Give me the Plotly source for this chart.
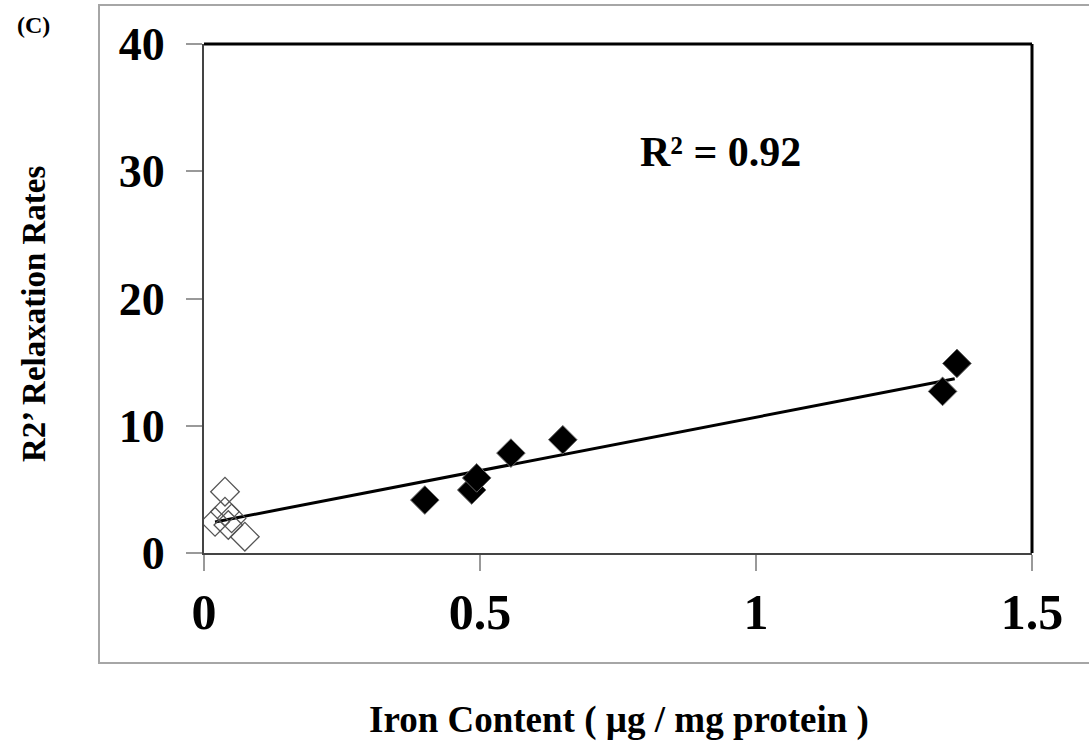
import plotly.graph_objects as go
import numpy as np

# Data
open_x = [0.020, 0.038, 0.038, 0.050, 0.044, 0.074]
open_y = [2.45, 4.82, 3.25, 2.72, 2.2, 1.28]

filled_x = [0.400, 0.485, 0.494, 0.556, 0.650, 1.338, 1.364]
filled_y = [4.16, 4.95, 5.9, 7.85, 8.9, 12.7, 14.9]

fit_slope = 8.40
fit_intercept = 2.27
fit_x_range = [0.020, 1.360]
r2_text = "R² = 0.92"

x_ticks = [0, 0.5, 1, 1.5]
x_ticklabels = ["0", "0.5", "1", "1.5"]
y_ticks = [0, 10, 20, 30, 40]

FONT = "Liberation Serif"

fig = go.Figure()

fit_x = np.array(fit_x_range)
fit_y = fit_slope * fit_x + fit_intercept
fig.add_trace(go.Scatter(x=fit_x, y=fit_y, mode="lines",
                         line=dict(color="black", width=3), showlegend=False))

fig.add_trace(go.Scatter(x=open_x, y=open_y, mode="markers", showlegend=False,
                         marker=dict(symbol="diamond-open", size=22, color="#555555",
                                     line=dict(color="#555555", width=1.3))))
fig.add_trace(go.Scatter(x=filled_x, y=filled_y, mode="markers", showlegend=False,
                         marker=dict(symbol="diamond", size=22, color="black",
                                     line=dict(color="#666666", width=1))))

L, R, T, B = 204, 57, 44, 189
W, H = 1089, 742
pw, ph = W - L - R, H - T - B

def px(x):
    return (x - L) / pw

def py(y):
    return (H - B - y) / ph

fig.update_layout(
    width=W, height=H,
    margin=dict(l=L, r=R, t=T, b=B),
    paper_bgcolor="white", plot_bgcolor="white",
    xaxis=dict(range=[0, 1.5], tickvals=x_ticks, ticktext=x_ticklabels,
               showgrid=False, zeroline=False, showline=True,
               linecolor="#444444", linewidth=2,
               ticks="outside", ticklen=16, tickcolor="#999999", tickwidth=1.5,
               tickfont=dict(family=FONT, size=50, color="black", weight="bold"),
               ticklabelstandoff=-2),
    yaxis=dict(range=[0, 40], tickvals=y_ticks,
               showgrid=False, zeroline=False, showline=True,
               linecolor="#444444", linewidth=2,
               ticks="outside", ticklen=16, tickcolor="#999999", tickwidth=1.5,
               tickfont=dict(family=FONT, size=46, color="black", weight="bold"),
               ticklabelstandoff=12),
    shapes=[
        # top and right frame of plot area
        dict(type="line", xref="paper", yref="paper", x0=0, x1=1, y0=1, y1=1,
             line=dict(color="black", width=3)),
        dict(type="line", xref="paper", yref="paper", x0=1, x1=1, y0=0, y1=1,
             line=dict(color="black", width=3)),
        # outer chart frame
        dict(type="rect", xref="paper", yref="paper",
             x0=px(99), x1=px(1095), y0=py(663), y1=py(5),
             line=dict(color="#a6a6a6", width=2), layer="below"),
    ],
    annotations=[
        dict(text=r2_text, xref="paper", yref="paper", x=px(720), y=py(152),
             showarrow=False, xanchor="center", yanchor="middle",
             font=dict(family=FONT, size=42, color="black", weight="bold")),
        dict(text="Iron Content ( µg / mg protein )", xref="paper", yref="paper",
             x=px(619), y=py(720), showarrow=False, xanchor="center", yanchor="middle",
             font=dict(family=FONT, size=37, color="black", weight="bold")),
        dict(text="R2’ Relaxation Rates", xref="paper", yref="paper",
             x=px(34), y=py(314), showarrow=False, xanchor="center", yanchor="middle",
             textangle=-90,
             font=dict(family=FONT, size=33, color="black", weight="bold")),
        dict(text="(C)", xref="paper", yref="paper",
             x=px(33), y=py(25), showarrow=False, xanchor="center", yanchor="middle",
             font=dict(family=FONT, size=24, color="black", weight="bold")),
    ],
)

fig.write_html("out.html", config={"displayModeBar": False},
               post_script="document.body.style.margin='0px';")
